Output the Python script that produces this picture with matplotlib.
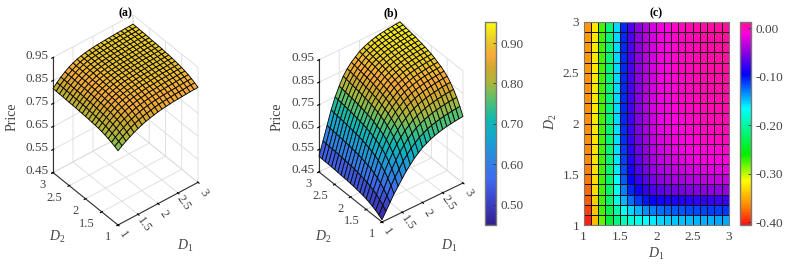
# three panel figure: price surfaces (a), (b) and heat map (c)
import numpy as np
import matplotlib
matplotlib.use("Agg")
import matplotlib.pyplot as plt
from matplotlib.colors import LinearSegmentedColormap
from matplotlib.cm import ScalarMappable
from matplotlib.colors import Normalize
from mpl_toolkits.mplot3d import proj3d

plt.rcParams["font.family"] = ["Liberation Serif", "DejaVu Serif"]
plt.rcParams["mathtext.fontset"] = "custom"
plt.rcParams["mathtext.rm"] = "Liberation Serif"
plt.rcParams["mathtext.it"] = "Liberation Serif:italic"
plt.rcParams["grid.color"] = "#dcdcdc"
plt.rcParams["grid.linewidth"] = 0.6

W, H = 793, 264
TXT = "#444444"

# SECTION 1 - DATA (rows: D2 = 1.0 ... 3.0, columns: D1 = 1.0 ... 3.0)
D1 = [1.0, 1.1, 1.2, 1.3, 1.4, 1.5, 1.6, 1.7, 1.8, 1.9, 2.0, 2.1, 2.2, 2.3, 2.4, 2.5, 2.6, 2.7, 2.8, 2.9, 3.0]
D2 = [1.0, 1.1, 1.2, 1.3, 1.4, 1.5, 1.6, 1.7, 1.8, 1.9, 2.0, 2.1, 2.2, 2.3, 2.4, 2.5, 2.6, 2.7, 2.8, 2.9, 3.0]

price_a = [
    [.773, .785, .796, .806, .815, .823, .83, .836, .841, .845, .849, .852, .854, .856, .858, .859, .86, .861, .862, .8625, .863],
    [.78, .793, .805, .815, .825, .833, .84, .846, .85, .854, .858, .861, .863, .864, .866, .867, .868, .869, .87, .871, .871],
    [.786, .80, .812, .823, .833, .841, .848, .854, .859, .862, .866, .868, .87, .872, .873, .874, .875, .876, .877, .878, .878],
    [.791, .806, .818, .83, .84, .848, .855, .861, .865, .869, .872, .874, .876, .878, .879, .88, .881, .882, .883, .883, .884],
    [.796, .81, .824, .835, .845, .854, .861, .866, .871, .874, .877, .88, .881, .882, .884, .885, .886, .886, .887, .888, .888],
    [.799, .814, .828, .839, .85, .858, .865, .871, .875, .878, .881, .884, .885, .886, .888, .889, .89, .89, .891, .892, .892],
    [.802, .817, .831, .843, .853, .862, .869, .874, .878, .882, .884, .887, .888, .889, .891, .892, .893, .893, .894, .894, .895],
    [.804, .819, .833, .845, .856, .865, .872, .877, .881, .884, .887, .889, .891, .892, .893, .894, .895, .895, .896, .897, .897],
    [.805, .821, .835, .848, .858, .867, .874, .879, .883, .887, .889, .891, .893, .894, .895, .896, .897, .897, .898, .899, .899],
    [.807, .823, .837, .85, .86, .869, .876, .881, .886, .889, .891, .893, .894, .896, .897, .898, .899, .899, .9, .9, .901],
    [.808, .824, .839, .851, .862, .871, .878, .883, .887, .89, .893, .895, .896, .897, .898, .899, .9, .901, .901, .902, .902],
    [.809, .826, .84, .853, .863, .872, .879, .884, .889, .892, .894, .896, .897, .898, .90, .901, .902, .902, .903, .903, .904],
    [.81, .827, .841, .854, .865, .873, .88, .886, .89, .893, .895, .897, .898, .899, .90, .901, .902, .903, .904, .904, .905],
    [.811, .828, .842, .855, .866, .875, .882, .887, .891, .894, .896, .898, .899, .90, .901, .902, .903, .904, .905, .905, .906],
    [.812, .828, .843, .856, .867, .875, .882, .888, .892, .895, .897, .899, .90, .901, .902, .903, .904, .905, .905, .906, .906],
    [.812, .829, .844, .857, .868, .877, .884, .889, .893, .896, .898, .90, .901, .902, .903, .904, .905, .905, .906, .907, .907],
    [.813, .83, .844, .857, .868, .877, .884, .889, .893, .896, .898, .90, .902, .903, .904, .905, .906, .906, .907, .907, .908],
    [.814, .83, .845, .858, .869, .878, .885, .89, .894, .897, .899, .901, .902, .903, .904, .905, .906, .907, .908, .908, .909],
    [.814, .831, .846, .859, .87, .879, .886, .891, .895, .898, .90, .902, .903, .904, .905, .906, .907, .907, .908, .908, .909],
    [.815, .832, .846, .859, .87, .879, .886, .891, .895, .898, .90, .902, .904, .905, .906, .907, .908, .908, .909, .909, .91],
    [.815, .832, .847, .86, .871, .88, .887, .892, .896, .899, .901, .903, .904, .905, .906, .907, .908, .908, .909, .909, .91],
]

price_b = [
    [.46, .49, .52, .55, .575, .60, .625, .645, .665, .68, .695, .705, .715, .722, .728, .733, .737, .74, .743, .745, .747],
    [.47, .505, .54, .576, .605, .632, .659, .68, .70, .715, .73, .74, .75, .757, .762, .767, .771, .774, .777, .779, .781],
    [.479, .519, .558, .598, .631, .661, .689, .711, .731, .746, .761, .771, .78, .787, .793, .797, .801, .804, .807, .809, .81],
    [.486, .53, .573, .616, .652, .684, .713, .735, .755, .77, .785, .795, .804, .811, .817, .821, .825, .828, .831, .833, .834],
    [.492, .539, .585, .631, .67, .703, .733, .756, .776, .791, .806, .816, .825, .832, .837, .842, .845, .848, .851, .853, .854],
    [.497, .546, .594, .643, .684, .718, .749, .772, .792, .807, .822, .832, .841, .848, .853, .858, .861, .864, .867, .869, .87],
    [.501, .551, .602, .652, .694, .729, .761, .784, .804, .819, .834, .844, .853, .86, .865, .87, .873, .876, .878, .88, .882],
    [.504, .556, .608, .66, .703, .739, .771, .795, .815, .83, .845, .855, .863, .87, .875, .88, .883, .886, .888, .89, .892],
    [.506, .559, .612, .666, .71, .746, .779, .803, .823, .838, .853, .863, .871, .878, .884, .888, .891, .894, .896, .898, .899],
    [.509, .563, .617, .672, .717, .754, .787, .811, .831, .846, .861, .871, .879, .886, .892, .896, .899, .902, .904, .906, .907],
    [.51, .566, .621, .676, .722, .76, .793, .817, .837, .852, .867, .877, .885, .893, .898, .902, .905, .908, .91, .912, .913],
    [.512, .568, .624, .68, .726, .764, .798, .822, .842, .857, .872, .882, .89, .897, .903, .907, .91, .913, .915, .917, .918],
    [.513, .57, .626, .683, .73, .768, .802, .826, .846, .861, .876, .886, .894, .901, .907, .911, .914, .917, .919, .921, .922],
    [.514, .571, .629, .686, .733, .772, .806, .831, .851, .866, .881, .891, .899, .906, .911, .915, .918, .921, .923, .925, .926],
    [.515, .573, .63, .688, .736, .775, .809, .834, .854, .869, .884, .894, .902, .909, .914, .918, .921, .924, .926, .928, .929],
    [.516, .575, .633, .691, .74, .779, .813, .838, .858, .873, .888, .898, .906, .913, .918, .922, .925, .928, .93, .932, .933],
    [.517, .576, .634, .693, .741, .781, .815, .84, .86, .875, .89, .90, .908, .915, .92, .924, .927, .93, .932, .934, .935],
    [.518, .577, .636, .695, .744, .783, .818, .843, .863, .878, .893, .903, .911, .918, .923, .927, .93, .933, .935, .937, .938],
    [.518, .578, .637, .696, .746, .785, .82, .845, .865, .88, .895, .905, .913, .92, .925, .929, .932, .935, .937, .939, .94],
    [.519, .579, .639, .699, .748, .788, .823, .848, .868, .883, .898, .908, .916, .923, .928, .932, .935, .938, .94, .942, .943],
    [.52, .58, .64, .70, .75, .79, .825, .85, .87, .885, .90, .91, .918, .925, .93, .934, .937, .94, .942, .944, .945],
]

change_c = [
    [-.40, -.345, -.28, -.24, -.21, -.19, -.18, -.172, -.165, -.16, -.155, -.152, -.15, -.148, -.146, -.145, -.144, -.143, -.142, -.141, -.14],
    [-.39, -.34, -.275, -.23, -.195, -.17, -.155, -.145, -.135, -.13, -.125, -.122, -.12, -.118, -.116, -.115, -.114, -.113, -.112, -.111, -.11],
    [-.38, -.335, -.275, -.22, -.175, -.145, -.125, -.11, -.10, -.095, -.09, -.088, -.086, -.084, -.082, -.08, -.079, -.078, -.077, -.076, -.075],
    [-.375, -.33, -.275, -.22, -.17, -.13, -.105, -.09, -.08, -.072, -.066, -.062, -.059, -.056, -.054, -.052, -.05, -.049, -.048, -.047, -.046],
    [-.37, -.33, -.275, -.218, -.165, -.12, -.095, -.078, -.066, -.056, -.05, -.045, -.042, -.04, -.037, -.035, -.033, -.032, -.03, -.03, -.03],
    [-.368, -.328, -.275, -.217, -.16, -.115, -.088, -.07, -.057, -.047, -.04, -.035, -.032, -.029, -.026, -.024, -.022, -.021, -.02, -.019, -.018],
    [-.365, -.327, -.275, -.216, -.158, -.112, -.083, -.064, -.05, -.04, -.033, -.028, -.024, -.021, -.018, -.016, -.014, -.013, -.012, -.011, -.01],
    [-.364, -.326, -.275, -.216, -.157, -.11, -.08, -.06, -.046, -.035, -.028, -.023, -.019, -.016, -.013, -.011, -.009, -.008, -.007, -.006, -.005],
    [-.363, -.326, -.275, -.215, -.156, -.108, -.077, -.057, -.043, -.032, -.024, -.019, -.015, -.012, -.009, -.007, -.005, -.004, -.003, -.002, -.001],
    [-.362, -.325, -.275, -.215, -.156, -.107, -.075, -.055, -.04, -.029, -.021, -.016, -.012, -.009, -.006, -.004, -.002, -.001, 0, .001, .002],
    [-.362, -.325, -.275, -.215, -.155, -.106, -.074, -.053, -.038, -.027, -.019, -.014, -.01, -.007, -.004, -.002, 0, .001, .002, .003, .004],
    [-.362, -.325, -.275, -.215, -.155, -.106, -.073, -.052, -.037, -.026, -.018, -.013, -.009, -.006, -.003, -.001, .001, .002, .003, .004, .005],
    [-.361, -.325, -.275, -.215, -.155, -.105, -.072, -.051, -.036, -.026, -.017, -.012, -.008, -.005, -.002, 0, .002, .003, .004, .005, .006],
    [-.361, -.325, -.275, -.215, -.155, -.105, -.072, -.051, -.036, -.025, -.017, -.012, -.007, -.004, -.001, .001, .003, .004, .005, .006, .007],
    [-.361, -.325, -.275, -.215, -.155, -.105, -.071, -.05, -.036, -.025, -.016, -.011, -.007, -.003, -.001, .002, .003, .005, .006, .007, .008],
    [-.36, -.325, -.275, -.215, -.155, -.105, -.071, -.05, -.035, -.025, -.016, -.011, -.006, -.003, 0, .002, .004, .005, .006, .007, .008],
    [-.36, -.325, -.275, -.215, -.155, -.105, -.071, -.05, -.035, -.025, -.016, -.01, -.006, -.002, 0, .003, .004, .006, .007, .008, .009],
    [-.36, -.325, -.275, -.215, -.155, -.105, -.07, -.05, -.035, -.025, -.015, -.01, -.006, -.002, .001, .003, .005, .006, .007, .008, .009],
    [-.36, -.325, -.275, -.215, -.155, -.105, -.07, -.05, -.035, -.025, -.015, -.01, -.005, -.001, .001, .003, .005, .006, .008, .009, .01],
    [-.36, -.325, -.275, -.215, -.155, -.105, -.07, -.05, -.035, -.025, -.015, -.01, -.005, -.001, .002, .004, .005, .007, .008, .009, .01],
    [-.36, -.325, -.275, -.215, -.155, -.105, -.07, -.05, -.035, -.025, -.015, -.01, -.005, 0, .002, .004, .006, .007, .008, .009, .01],
]

price_ticks = [0.45, 0.55, 0.65, 0.75, 0.85, 0.95]
d_ticks = [1, 1.5, 2, 2.5, 3]
d_labels = ["1", "1.5", "2", "2.5", "3"]
cbar_b_ticks = [0.50, 0.60, 0.70, 0.80, 0.90]
cbar_c_ticks = [0.00, -0.10, -0.20, -0.30, -0.40]

# SECTION 2 - COLOURS
price_stops = [(.45, "#33218c"), (.50, "#3b3cc0"), (.56, "#3f68ee"), (.62, "#2a8ae0"), (.67, "#14a8cc"),
               (.71, "#0fb8b0"), (.76, "#55c070"), (.80, "#a8b83c"), (.84, "#d2a82e"), (.87, "#f8aa3a"),
               (.90, "#e8c42c"), (.952, "#fbfb10")]
P_MIN, P_MAX = 0.45, 0.952
price_cmap = LinearSegmentedColormap.from_list(
    "price", [((v - P_MIN) / (P_MAX - P_MIN), c) for v, c in price_stops], N=256)

change_stops = [(-.406, "#ff1010"), (-.365, "#ff8c00"), (-.315, "#ffff00"), (-.26, "#00ee00"), (-.165, "#00ffff"),
                (-.095, "#0000ff"), (-.05, "#8a00e0"), (-.01, "#ff00e0"), (.013, "#ff1090")]
C_MIN, C_MAX = -0.406, 0.013
change_cmap = LinearSegmentedColormap.from_list(
    "change", [((v - C_MIN) / (C_MAX - C_MIN), c) for v, c in change_stops], N=256)


def px_rect(x0, y0, x1, y1):
    # pixel box (y from top) to figure fractions
    return [x0 / W, 1 - y1 / H, (x1 - x0) / W, (y1 - y0) / H]


def px_text(x, y, s, **kw):
    kw.setdefault("color", TXT)
    kw.setdefault("fontsize", 9)
    kw.setdefault("ha", "center")
    fig.text(x / W, 1 - y / H, s, va="center", **kw)


def corner_px(ax, x, y, z):
    px, py, _ = proj3d.proj_transform(x, y, z, ax.get_proj())
    dx, dy = ax.transData.transform((px, py))
    return dx, H - dy


def surface_panel(Z, elev, azim, z_aspect, front, span):
    ax = fig.add_axes(px_rect(front[0] - 130, front[1] - 190, front[0] + 130, front[1] + 70),
                      projection="3d", proj_type="ortho", computed_zorder=False)
    ax.patch.set_alpha(0)
    ax.view_init(elev=elev, azim=azim)
    X, Y = np.meshgrid(D1, D2)
    ax.plot_surface(X, Y, np.array(Z), cmap=price_cmap, vmin=P_MIN, vmax=P_MAX, rstride=1, cstride=1,
                    edgecolor="#0a0a0a", linewidth=0.65, shade=False, antialiased=True)
    ax.set_xlim(1, 3, view_margin=0)
    ax.set_ylim(1, 3, view_margin=0)
    ax.set_zlim(P_MIN, 0.95, view_margin=0)
    ax.set_xticks(d_ticks, [""] * len(d_ticks))
    ax.set_yticks(d_ticks, [""] * len(d_ticks))
    ax.set_zticks(price_ticks, [""] * len(price_ticks))
    for axis in (ax.xaxis, ax.yaxis, ax.zaxis):
        axis.set_pane_color((1, 1, 1, 0))
        axis.pane.set_edgecolor("#dcdcdc")
        axis.line.set_color("#333333")
        axis.line.set_linewidth(0.8)
    # fit the drawn box on the wanted pixels
    ax.set_box_aspect((1, 1, z_aspect), zoom=1)
    fig.canvas.draw()
    width = corner_px(ax, 3, 1, P_MIN)[0] - corner_px(ax, 1, 3, P_MIN)[0]
    ax.set_box_aspect((1, 1, z_aspect), zoom=span / width)
    fig.canvas.draw()
    cx, cy = corner_px(ax, 1, 1, P_MIN)
    pos = ax.get_position()
    ax.set_position([pos.x0 + (front[0] - cx) / W, pos.y0 - (front[1] - cy) / H, pos.width, pos.height])
    fig.canvas.draw()
    # tick labels sit at a fixed pixel offset from their tick
    for v, lab in zip(d_ticks, d_labels):
        x, y = corner_px(ax, v, 1, P_MIN)
        px_text(x + 5.5, y + 10, lab, rotation=-55, fontsize=9)
        x, y = corner_px(ax, 1, v, P_MIN)
        px_text(x - 7, y + 12, lab, ha="right", fontsize=9)
    for v in price_ticks:
        x, y = corner_px(ax, 1, 3, v)
        px_text(x - 4, y - 1.5, f"{v:.2f}", ha="right", fontsize=9.5)
    return ax


def colorbar_panel(rect, cmap, vmin, vmax, ticks):
    cax = fig.add_axes(px_rect(*rect))
    cb = fig.colorbar(ScalarMappable(Normalize(vmin, vmax), cmap), cax=cax)
    cb.set_ticks(ticks, labels=[f"{v:.2f}" for v in ticks])
    cax.tick_params(direction="in", length=2, width=0.6, labelsize=9.5, labelcolor=TXT, pad=3, color="#333333")
    cb.outline.set_edgecolor("#777777")
    cb.outline.set_linewidth(1.0)
    return cb


fig = plt.figure(figsize=(W / 100, H / 100), dpi=100, facecolor="white")

# PANEL (a)
surface_panel(price_a, 41, -129.1, 1.478, (118, 225), 145)
px_text(125, 13.5, "(a)", fontweight="bold", color="black", fontsize=8.5)
px_text(12, 117, "Price", rotation=90, fontsize=10)
px_text(57, 237, "$D_2$", fontsize=10)
px_text(185, 246, "$D_1$", fontsize=10)

# PANEL (b)
surface_panel(price_b, 38.2, -127.9, 1.39, (382, 222), 144)
px_text(391, 13.5, "(b)", fontweight="bold", color="black", fontsize=8.5)
px_text(277, 117, "Price", rotation=90, fontsize=10)
px_text(323, 237, "$D_2$", fontsize=10)
px_text(449, 246, "$D_1$", fontsize=10)
colorbar_panel((485, 22, 496, 225), price_cmap, P_MIN, P_MAX, cbar_b_ticks)

# PANEL (c)
ax3 = fig.add_axes(px_rect(583.5, 22, 729, 225))
ax3.pcolormesh(D1, D2, np.array(change_c)[:-1, :-1], cmap=change_cmap, vmin=C_MIN, vmax=C_MAX,
               edgecolors="#111111", linewidth=0.4)
ax3.set_xlim(1, 3)
ax3.set_ylim(1, 3)
ax3.set_xticks(d_ticks, d_labels)
ax3.set_yticks(d_ticks, d_labels)
ax3.tick_params(length=0, labelsize=9.5, labelcolor=TXT)
ax3.tick_params(axis="x", pad=4)
ax3.tick_params(axis="y", pad=3)
for spine in ax3.spines.values():
    spine.set_edgecolor("#777777")
    spine.set_linewidth(0.8)
px_text(656, 13.5, "(c)", fontweight="bold", color="black", fontsize=8.5)
px_text(656, 254, "$D_1$", fontsize=10)
px_text(551, 122, "$D_2$", rotation=90, fontsize=10)
colorbar_panel((740, 22, 751, 225), change_cmap, C_MIN, C_MAX, cbar_c_ticks)

fig.savefig("out.png", dpi=100, facecolor="white")
